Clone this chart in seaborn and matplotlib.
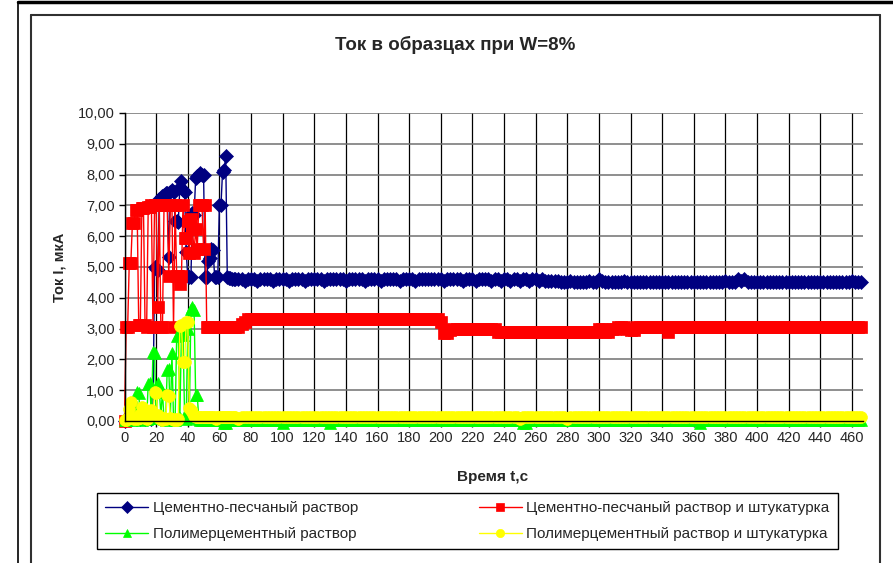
import pandas as pd
import matplotlib.pyplot as plt
import seaborn as sns
from matplotlib.lines import Line2D

# time axis: 1 s steps at the start, 2 s steps in the steady part
t = list(range(0, 70)) + list(range(70, 467, 2))

names = ["Цементно-песчаный раствор",
         "Цементно-песчаный раствор и штукатурка",
         "Полимерцементный раствор",
         "Полимерцементный раствор и штукатурка"]
colors = ["#000080", "#FF0000", "#00FF00", "#FFFF00"]
markers = ["D", "s", "^", "o"]
msizes = [7.5, 8.5, 9, 8.5]

# --- values (mA) ---
blue = [0.0, 0.05, 0.1, 0.15, 0.1, 0.05, 0.1, 0.2, 0.15, 0.1,
        0.05, 0.1, 0.1, 0.05, 0.1, 0.15, 0.1, 0.05, 0.2, 5.0,
        4.95, 4.9, 7.2, 7.25, 7.3, 7.35, 7.4, 7.4, 5.33, 7.45,
        7.5, 7.45, 6.5, 6.5, 6.45, 7.6, 7.8, 7.5, 7.45, 5.5,
        4.7, 4.69, 4.69, 6.74, 6.7, 7.88, 7.95, 8.0, 8.04, 8.0,
        8.0, 4.69, 4.69, 5.2, 5.28, 5.6, 5.55, 4.69, 4.69, 4.69,
        7.0, 7.0, 8.1, 8.15, 8.6, 4.69, 4.65, 4.65, 4.6, 4.6,
        # 70..466 step 2
        4.6, 4.6, 4.6, 4.55, 4.6, 4.6, 4.6, 4.55, 4.6, 4.6, 4.6, 4.6, 4.55, 4.6, 4.6, 4.6, 4.6, 4.55, 4.6, 4.6,
        4.6, 4.6, 4.55, 4.6, 4.6, 4.6, 4.6, 4.6, 4.55, 4.6, 4.6, 4.6, 4.6, 4.6, 4.6, 4.55, 4.6, 4.6, 4.6, 4.6,
        4.6, 4.55, 4.6, 4.6, 4.6, 4.6, 4.55, 4.6, 4.6, 4.6, 4.6, 4.6, 4.55, 4.6, 4.6, 4.6, 4.6, 4.55, 4.6, 4.6,
        4.6, 4.6, 4.6, 4.6, 4.6, 4.6, 4.55, 4.6, 4.6, 4.6, 4.6, 4.6, 4.55, 4.6, 4.6, 4.6, 4.55, 4.6, 4.6, 4.6,
        4.6, 4.55, 4.6, 4.6, 4.55, 4.6, 4.6, 4.55, 4.6, 4.6, 4.55, 4.6, 4.6, 4.55, 4.6, 4.6, 4.55, 4.6, 4.55, 4.55,
        4.55, 4.55, 4.55, 4.5, 4.5, 4.5, 4.55, 4.5, 4.5, 4.5, 4.5, 4.5, 4.55, 4.5, 4.5, 4.6, 4.55, 4.5, 4.5, 4.5,
        4.5, 4.5, 4.5, 4.55, 4.5, 4.5, 4.5, 4.5, 4.5, 4.5, 4.5, 4.5, 4.5, 4.5, 4.5, 4.5, 4.5, 4.5, 4.5, 4.5,
        4.5, 4.5, 4.5, 4.5, 4.5, 4.5, 4.5, 4.5, 4.5, 4.5, 4.5, 4.5, 4.5, 4.5, 4.5, 4.55, 4.5, 4.5, 4.5, 4.6,
        4.55, 4.6, 4.5, 4.5, 4.5, 4.5, 4.5, 4.5, 4.5, 4.5, 4.5, 4.5, 4.5, 4.5, 4.5, 4.5, 4.5, 4.5, 4.5, 4.5,
        4.5, 4.5, 4.5, 4.5, 4.5, 4.5, 4.5, 4.5, 4.5, 4.5, 4.5, 4.5, 4.5, 4.5, 4.5, 4.55, 4.5, 4.5, 4.5]

red = [0.0, 3.05, 3.05, 5.12, 5.12, 6.44, 6.44, 6.85, 6.85, 3.12,
       3.12, 6.9, 6.9, 3.12, 3.05, 6.95, 6.95, 7.0, 3.05, 7.0,
       7.0, 3.7, 7.0, 3.05, 3.05, 7.0, 7.0, 7.0, 4.7, 7.0,
       7.0, 3.05, 7.0, 4.7, 4.7, 4.45, 4.7, 7.0, 5.95, 5.95,
       6.5, 5.45, 6.55, 6.25, 5.45, 6.25, 5.6, 7.0, 7.0, 7.0,
       5.6, 7.0, 3.05, 3.05, 3.05, 3.05, 3.05, 3.05, 3.05, 3.05,
       3.05, 3.05, 3.05, 3.05, 3.05, 3.05, 3.05, 3.05, 3.05, 3.05,
       # 70..466 step 2
       3.05, 3.05, 3.15, 3.2, 3.3, 3.3, 3.3, 3.3, 3.3, 3.3, 3.3, 3.3, 3.3, 3.3, 3.3, 3.3, 3.3, 3.3, 3.3, 3.3,
       3.3, 3.3, 3.3, 3.3, 3.3, 3.3, 3.3, 3.3, 3.3, 3.3, 3.3, 3.3, 3.3, 3.3, 3.3, 3.3, 3.3, 3.3, 3.3, 3.3,
       3.3, 3.3, 3.3, 3.3, 3.3, 3.3, 3.3, 3.3, 3.3, 3.3, 3.3, 3.3, 3.3, 3.3, 3.3, 3.3, 3.3, 3.3, 3.3, 3.3,
       3.3, 3.3, 3.3, 3.3, 3.3, 3.2, 2.85, 2.85, 2.95, 3.0, 3.0, 3.0, 3.0, 3.0, 3.0, 3.0, 3.0, 3.0, 3.0, 3.0,
       3.0, 3.0, 3.0, 2.9, 2.9, 2.9, 2.9, 2.9, 2.9, 2.9, 2.9, 2.9, 2.9, 2.9, 2.9, 2.9, 2.9, 2.9, 2.9, 2.9,
       2.9, 2.9, 2.9, 2.9, 2.9, 2.9, 2.9, 2.9, 2.9, 2.9, 2.9, 2.9, 2.9, 2.9, 2.9, 3.0, 3.0, 2.9, 2.9, 3.0,
       3.0, 3.05, 3.05, 3.05, 3.0, 2.95, 2.95, 3.05, 3.05, 3.05, 3.05, 3.05, 3.05, 3.05, 3.05, 3.05, 3.05, 2.9, 3.05, 3.05,
       3.05, 3.05, 3.05, 3.05, 3.05, 3.05, 3.05, 3.05, 3.05, 3.05, 3.05, 3.05, 3.05, 3.05, 3.05, 3.05, 3.05, 3.05, 3.05, 3.05,
       3.05, 3.05, 3.05, 3.05, 3.05, 3.05, 3.05, 3.05, 3.05, 3.05, 3.05, 3.05, 3.05, 3.05, 3.05, 3.05, 3.05, 3.05, 3.05, 3.05,
       3.05, 3.05, 3.05, 3.05, 3.05, 3.05, 3.05, 3.05, 3.05, 3.05, 3.05, 3.05, 3.05, 3.05, 3.05, 3.05, 3.05, 3.05, 3.05]

green = [0.02, 0.05, 0.1, 0.05, 0.02, 0.05, 0.1, 0.5, 0.95, 0.9,
         0.1, 0.02, 0.05, 0.1, 0.05, 1.2, 1.22, 0.1, 2.25, 2.2,
         0.1, 1.22, 1.0, 0.2, 0.95, 0.05, 0.02, 1.66, 1.7, 0.1,
         2.2, 0.05, 0.02, 2.75, 2.8, 0.1, 2.85, 2.8, 0.2, 0.05,
         3.0, 0.1, 3.65, 3.71, 3.6, 0.84, 0.84, 0.05, 0.02, 0.02,
         0.02, 0.02, 0.02, 0.02, 0.02, 0.02, 0.02, 0.02, 0.02, 0.02,
         0.02, 0.02, 0.02, -0.06, -0.06, 0.02, 0.02, 0.02, 0.02, 0.02,
         # 70..466 step 2
         0.02, 0.02, 0.02, 0.02, 0.02, 0.02, 0.02, 0.02, 0.02, 0.02, 0.02, 0.02, 0.02, 0.02, 0.02, -0.06, 0.02, 0.02, 0.02, 0.02,
         0.02, 0.02, 0.02, 0.02, 0.02, 0.02, 0.02, 0.02, 0.02, 0.02, -0.06, 0.02, 0.02, 0.02, 0.02, 0.02, 0.02, 0.02, 0.02, 0.02,
         0.02, 0.02, 0.02, 0.02, 0.02, 0.02, 0.02, 0.02, 0.02, 0.02, 0.02, 0.02, 0.02, 0.02, 0.02, 0.02, 0.02, 0.02, 0.02, 0.02,
         0.02, 0.02, 0.02, 0.02, 0.02, 0.02, 0.02, 0.02, 0.02, 0.02, 0.02, 0.02, 0.02, 0.02, 0.02, 0.02, 0.02, 0.02, 0.02, 0.02,
         0.02, 0.02, 0.02, 0.02, 0.02, 0.02, 0.02, 0.02, 0.02, 0.02, 0.02, -0.06, -0.06, 0.02, 0.02, 0.02, 0.02, 0.02, 0.02, 0.02,
         0.02, 0.02, 0.02, 0.02, 0.02, 0.02, 0.02, 0.02, 0.02, 0.02, 0.02, 0.02, 0.02, 0.02, 0.02, 0.02, 0.02, 0.02, 0.02, 0.02,
         0.02, 0.02, 0.02, 0.02, 0.02, 0.02, 0.02, 0.02, 0.02, 0.02, 0.02, 0.02, 0.02, 0.02, 0.02, 0.02, 0.02, 0.02, 0.02, 0.02,
         0.02, 0.02, 0.02, 0.02, 0.02, 0.02, 0.02, -0.06, 0.02, 0.02, 0.02, 0.02, 0.02, 0.02, 0.02, 0.02, 0.02, 0.02, 0.02, 0.02,
         0.02, 0.02, 0.02, 0.02, 0.02, 0.02, 0.02, 0.02, 0.02, 0.02, 0.02, 0.02, 0.02, 0.02, 0.02, 0.02, 0.02, 0.02, 0.02, 0.02,
         0.02, 0.02, 0.02, 0.02, 0.02, 0.02, 0.02, 0.02, 0.02, 0.02, 0.02, 0.02, 0.02, 0.02, 0.02, 0.02, 0.02, 0.02, 0.02]

yellow = [0.02, 0.03, 0.1, 0.4, 0.63, 0.1, 0.05, 0.1, 0.05, 0.2,
          0.1, 0.45, 0.41, 0.1, 0.05, 0.1, 0.3, 0.36, 0.2, 0.95,
          0.92, 0.2, 0.1, 0.05, 0.03, 0.1, 0.05, 0.84, 0.8, 0.1,
          0.05, 0.03, 0.05, 0.03, 0.05, 3.1, 3.12, 1.93, 1.9, 3.2,
          3.22, 0.41, 0.36, 0.3, 0.15, 0.12, 0.12, 0.12, 0.12, 0.12,
          0.12, 0.12, 0.12, 0.12, 0.12, 0.12, 0.12, 0.12, 0.05, 0.12,
          0.12, 0.12, 0.12, 0.12, 0.12, 0.12, 0.12, 0.12, 0.12, 0.12,
          # 70..466 step 2
          0.12, 0.05, 0.12, 0.12, 0.12, 0.12, 0.12, 0.12, 0.12, 0.12, 0.12, 0.12, 0.12, 0.12, 0.12, 0.12, 0.12, 0.12, 0.12, 0.12,
          0.12, 0.12, 0.12, 0.12, 0.12, 0.12, 0.12, 0.12, 0.12, 0.12, 0.12, 0.12, 0.12, 0.12, 0.12, 0.12, 0.12, 0.12, 0.12, 0.12,
          0.12, 0.12, 0.12, 0.12, 0.12, 0.12, 0.12, 0.12, 0.12, 0.12, 0.12, 0.12, 0.12, 0.12, 0.12, 0.12, 0.12, 0.12, 0.12, 0.12,
          0.12, 0.12, 0.12, 0.12, 0.12, 0.12, 0.12, 0.12, 0.12, 0.12, 0.12, 0.12, 0.12, 0.12, 0.12, 0.12, 0.12, 0.12, 0.12, 0.12,
          0.12, 0.12, 0.12, 0.12, 0.12, 0.12, 0.12, 0.12, 0.12, 0.12, 0.05, 0.12, 0.12, 0.12, 0.12, 0.12, 0.12, 0.12, 0.12, 0.12,
          0.12, 0.12, 0.12, 0.12, 0.12, 0.05, 0.12, 0.12, 0.12, 0.12, 0.12, 0.12, 0.12, 0.12, 0.12, 0.12, 0.12, 0.12, 0.12, 0.12,
          0.12, 0.12, 0.12, 0.12, 0.12, 0.12, 0.12, 0.12, 0.12, 0.12, 0.12, 0.12, 0.12, 0.12, 0.12, 0.12, 0.12, 0.12, 0.12, 0.12,
          0.12, 0.12, 0.12, 0.12, 0.12, 0.12, 0.12, 0.12, 0.12, 0.12, 0.12, 0.12, 0.12, 0.12, 0.12, 0.12, 0.12, 0.12, 0.12, 0.12,
          0.12, 0.12, 0.12, 0.12, 0.12, 0.12, 0.12, 0.12, 0.12, 0.12, 0.12, 0.12, 0.12, 0.12, 0.12, 0.12, 0.12, 0.12, 0.12, 0.12,
          0.12, 0.12, 0.12, 0.12, 0.12, 0.12, 0.12, 0.12, 0.12, 0.12, 0.12, 0.12, 0.12, 0.12, 0.12, 0.12, 0.12, 0.12, 0.12]

series = [blue, red, green, yellow]
for s in series:
    assert len(s) == len(t), (len(s), len(t))

sns.set_style("ticks")
plt.rcParams["font.family"] = ["Liberation Sans", "DejaVu Sans"]

W, H = 893, 563
fig = plt.figure(figsize=(W / 100, H / 100), dpi=100)
ax = fig.add_axes([124.5 / W, 1 - 421 / H, (863 - 124.5) / W, (421 - 113) / H])

for vals, name, c, m, ms in zip(series, names, colors, markers, msizes):
    df = pd.DataFrame({"t": t, "I": vals})
    sns.lineplot(data=df, x="t", y="I", ax=ax, color=c, marker=m, markersize=ms,
                 markeredgecolor=c, markeredgewidth=0.5, linewidth=1.0,
                 label=name, sort=False, estimator=None)

for line in ax.lines:
    line.set_clip_on(False)

ax.set_xlim(0, 467)
ax.set_ylim(0, 10)
ax.set_xticks(range(0, 461, 20))
ax.set_yticks(range(0, 11))
ax.set_yticklabels([f"{v:.2f}".replace(".", ",") for v in range(0, 11)])
ax.tick_params(labelsize=10.5, length=4, width=1, color="black", pad=3)
ax.set_xlabel("")
ax.set_ylabel("")

ax.yaxis.grid(True, color="#707070", lw=1.1)
ax.xaxis.grid(True, color="#000000", lw=0.9)
ax.set_axisbelow(True)
for side in ["top", "right"]:
    ax.spines[side].set_visible(False)
for side in ["left", "bottom"]:
    ax.spines[side].set_color("black")
    ax.spines[side].set_linewidth(1.0)

fig.text(455 / W, 1 - 45 / H, "Ток в образцах при W=8%", ha="center", va="center",
         fontsize=13.5, fontweight="bold")
fig.text(60 / W, 1 - 267 / H, "Ток I, мкА", ha="center", va="center", rotation=90,
         fontsize=10.5, fontweight="bold")
fig.text(493 / W, 1 - 477 / H, "Время t,c", ha="center", va="center",
         fontsize=11, fontweight="bold")

# row-major order like the original legend: matplotlib fills columns first
handles, labels = ax.get_legend_handles_labels()
order = [0, 2, 1, 3]
leg = ax.legend([handles[i] for i in order], [labels[i] for i in order],
                ncol=2, loc="upper left",
                bbox_to_anchor=(97 / W, 1 - 548 / H, (838 - 97) / W, (548 - 493) / H),
                bbox_transform=fig.transFigure, mode="expand", fontsize=11,
                frameon=True, fancybox=False, edgecolor="black", framealpha=1,
                handlelength=2.8, labelspacing=0.75, borderaxespad=0, handletextpad=0.3,
                borderpad=0.55)
leg.get_frame().set_linewidth(1.0)
for h in leg.legend_handles:
    h.set_markersize(6)

# outer frame lines of the pasted chart
fig.add_artist(Line2D([18 / W, 1], [1 - 2 / H, 1 - 2 / H], color="black", lw=2.5))
fig.add_artist(Line2D([18 / W, 18 / W], [0, 1 - 2 / H], color="black", lw=1.2))
fig.add_artist(Line2D([31 / W, 880 / W], [1 - 15 / H, 1 - 15 / H], color="#303030", lw=1.5))
fig.add_artist(Line2D([31 / W, 31 / W], [0, 1 - 15 / H], color="#303030", lw=1.5))
fig.add_artist(Line2D([880 / W, 880 / W], [0, 1 - 15 / H], color="#303030", lw=1.5))

fig.savefig("out.png", dpi=100)
